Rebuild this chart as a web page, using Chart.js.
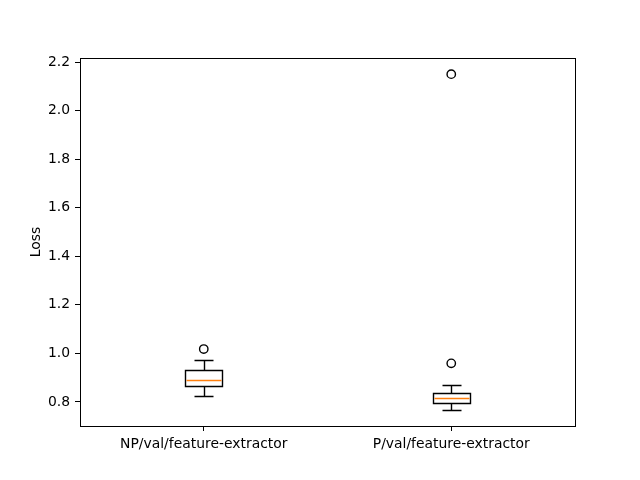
<!DOCTYPE html>
<html>
<head>
<meta charset="utf-8">
<script src="https://cdn.jsdelivr.net/npm/chart.js@4/dist/chart.umd.min.js"></script>
<style>
  html, body { margin: 0; padding: 0; background: #fff; }
  #wrap { width: 640px; height: 480px; }
</style>
</head>
<body>
<div id="wrap"><canvas id="boxChart" width="640" height="480"></canvas></div>
<script>
// box plot stats
const categories = ['NP/val/feature-extractor', 'P/val/feature-extractor'];
const whiskerLow = [0.825, 0.766];
const q1 = [0.867, 0.797];
const median = [0.891, 0.815];
const q3 = [0.932, 0.837];
const whiskerHigh = [0.973, 0.870];
const outliers = [[1.018], [0.959, 2.150]];
const yTicks = [0.8, 1.0, 1.2, 1.4, 1.6, 1.8, 2.0, 2.2];

const outlierPoints = [];
outliers.forEach((arr, i) => arr.forEach(v => outlierPoints.push({ x: i + 1, y: v })));

const crisp = v => Math.round(v) + 0.5;

// draws boxes, whiskers, caps and median using the chart scales
const boxPlugin = {
    id: 'boxes',
    beforeDatasetsDraw(chart) {
        const { ctx, scales: { x, y } } = chart;
        const boxW = 0.15, capW = 0.075;
        ctx.save();
        ctx.lineWidth = 1.4;
        categories.forEach((c, i) => {
            const pos = i + 1;
            const xl = crisp(x.getPixelForValue(pos - boxW / 2));
            const xr = crisp(x.getPixelForValue(pos + boxW / 2));
            const xc = crisp(x.getPixelForValue(pos));
            const cl = crisp(x.getPixelForValue(pos - capW / 2));
            const cr = crisp(x.getPixelForValue(pos + capW / 2));
            const yq1 = crisp(y.getPixelForValue(q1[i]));
            const yq3 = crisp(y.getPixelForValue(q3[i]));
            const ylo = crisp(y.getPixelForValue(whiskerLow[i]));
            const yhi = crisp(y.getPixelForValue(whiskerHigh[i]));
            const ymed = crisp(y.getPixelForValue(median[i]));

            ctx.strokeStyle = '#000';
            ctx.beginPath();
            ctx.rect(xl, yq3, xr - xl, yq1 - yq3);
            ctx.moveTo(xc, yq1); ctx.lineTo(xc, ylo);
            ctx.moveTo(xc, yq3); ctx.lineTo(xc, yhi);
            ctx.moveTo(cl, ylo); ctx.lineTo(cr, ylo);
            ctx.moveTo(cl, yhi); ctx.lineTo(cr, yhi);
            ctx.stroke();

            ctx.strokeStyle = '#ff7f0e';
            ctx.beginPath();
            ctx.moveTo(xl + 1, ymed); ctx.lineTo(xr - 1, ymed);
            ctx.stroke();
        });
        ctx.restore();
    },
    afterDraw(chart) {
        const { ctx, chartArea: a } = chart;
        ctx.save();
        ctx.strokeStyle = '#000';
        ctx.lineWidth = 1;
        ctx.strokeRect(crisp(a.left), crisp(a.top), Math.round(a.right - a.left), Math.round(a.bottom - a.top));
        ctx.restore();
    }
};

const font = { family: 'DejaVu Sans', size: 13.9 };

new Chart(document.getElementById('boxChart').getContext('2d'), {
    type: 'scatter',
    data: {
        datasets: [{
            data: outlierPoints,
            pointStyle: 'circle',
            pointRadius: 4.2,
            pointHoverRadius: 4.2,
            borderColor: '#000',
            borderWidth: 1.4,
            backgroundColor: 'rgba(0,0,0,0)'
        }]
    },
    options: {
        responsive: false,
        maintainAspectRatio: false,
        animation: false,
        layout: { padding: { left: 0, right: 65, top: 58, bottom: 0 } },
        plugins: { legend: { display: false }, tooltip: { enabled: false } },
        scales: {
            x: {
                type: 'linear', min: 0.5, max: 2.5,
                afterBuildTicks: s => { s.ticks = categories.map((c, i) => ({ value: i + 1 })); },
                afterFit: s => { s.height = 54; },
                ticks: { color: '#000', font: font, padding: 5, maxRotation: 0,
                    callback: v => categories[Math.round(v) - 1] },
                grid: { drawOnChartArea: false, tickLength: 5, color: '#000' },
                border: { color: '#000' }
            },
            y: {
                min: 0.7011, max: 2.2165,
                afterBuildTicks: s => { s.ticks = yTicks.map(v => ({ value: v })); },
                afterFit: s => { s.width = 80; },
                ticks: { color: '#000', font: font, padding: 5, callback: v => v.toFixed(1) },
                grid: { drawOnChartArea: false, tickLength: 5, color: '#000' },
                border: { color: '#000' },
                title: { display: true, text: 'Loss', color: '#000', font: font, padding: { top: 28, bottom: 0 } }
            }
        }
    },
    plugins: [boxPlugin]
});
</script>
</body>
</html>
